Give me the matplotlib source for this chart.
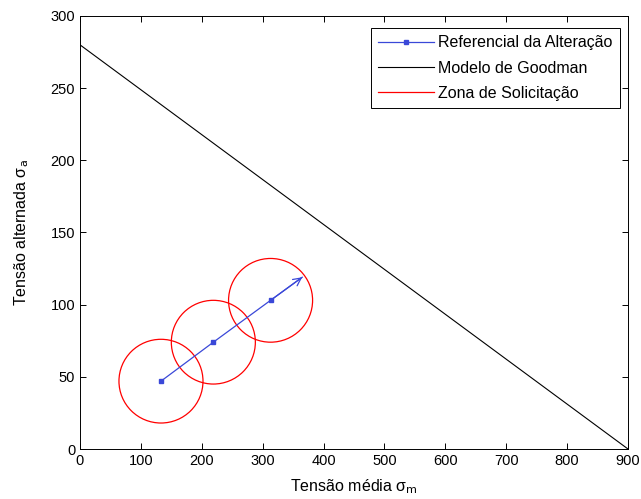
import matplotlib
matplotlib.use('Agg')
import matplotlib.pyplot as plt
from matplotlib.patches import Ellipse
from matplotlib.lines import Line2D

## data
goodman_x = [0, 900]
goodman_y = [280, 0]
ref_x = [133, 219, 313]
ref_y = [47, 74, 103]
tip_x = 365
tip_y = 119
circ_rx = 69
circ_ry = 29

plt.rcParams['font.family'] = ['Liberation Sans', 'DejaVu Sans']
plt.rcParams['font.size'] = 10.5

fig = plt.figure(figsize=(6.41, 4.99), dpi=100)
ax = fig.add_axes([0.1248, 0.1002, 0.8549, 0.8678])

bcol = '#3a48d8'
ax.plot(ref_x + [tip_x], ref_y + [tip_y], color=bcol, lw=0.9,
        marker='s', ms=3.5, markevery=[0, 1, 2], mfc=bcol, mec=bcol)
ax.annotate('', xy=(tip_x, tip_y), xytext=(ref_x[-1], ref_y[-1]),
            arrowprops=dict(arrowstyle='->', color=bcol, lw=0.9,
                            mutation_scale=14, shrinkA=0, shrinkB=0))
ax.plot(goodman_x, goodman_y, color='black', lw=0.8)
for x, y in zip(ref_x, ref_y):
    ax.add_patch(Ellipse((x, y), 2*circ_rx, 2*circ_ry, fill=False,
                         edgecolor='red', lw=0.9))

ax.set_xlim(0, 900)
ax.set_ylim(0, 300)
ax.set_xticks(range(0, 901, 100))
ax.set_yticks(range(0, 301, 50))
ax.tick_params(direction='in', top=True, right=True, length=4, width=0.7,
               labelsize=10.5)
for s in ax.spines.values():
    s.set_linewidth(0.7)

ax.set_xlabel('Tensão média σ$_{\\rm m}$', fontsize=11.5, labelpad=7)
ax.set_ylabel('Tensão alternada σ$_{\\rm a}$', fontsize=11.5, labelpad=14)

handles = [Line2D([], [], color=bcol, lw=0.9, marker='s', ms=3.5),
           Line2D([], [], color='black', lw=0.8),
           Line2D([], [], color='red', lw=0.9)]
labels = ['Referencial da Alteração', 'Modelo de Goodman', 'Zona de Solicitação']
leg = ax.legend(handles, labels, loc='upper right', fancybox=False,
                bbox_to_anchor=(0.9854, 0.9723), borderaxespad=0,
                edgecolor='black', framealpha=1, fontsize=11.5,
                handlelength=3.5, labelspacing=0.65, handletextpad=0.3,
                borderpad=0.45)
leg.get_frame().set_linewidth(0.7)

plt.savefig('out.png', dpi=100)
